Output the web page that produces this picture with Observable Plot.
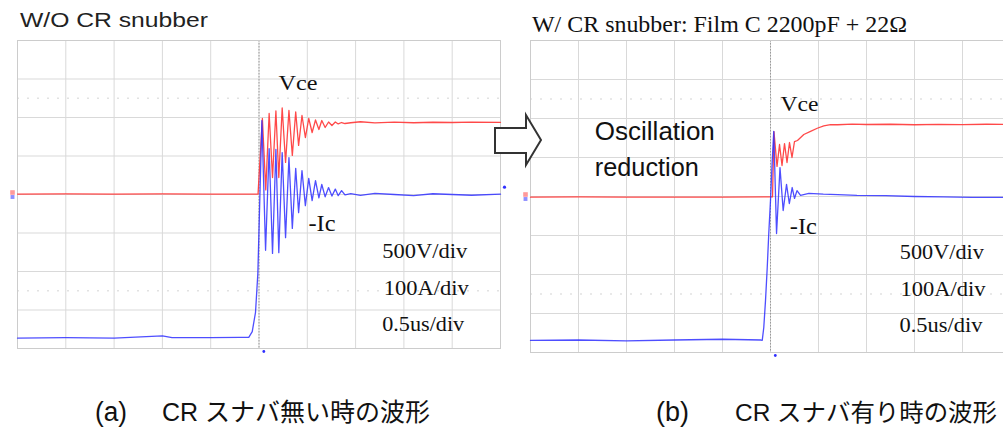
<!DOCTYPE html>
<html>
<head>
<meta charset="utf-8">
<script src="https://cdn.jsdelivr.net/npm/d3@7"></script>
<script src="https://cdn.jsdelivr.net/npm/@observablehq/plot@0.6"></script>
<style>
  html, body { margin: 0; padding: 0; background: #fff; }
  body { width: 1003px; height: 432px; overflow: hidden; position: relative; }
  .panel { position: absolute; top: 0; width: 520px; height: 360px; }
  #overlay { position: absolute; left: 0; top: 0; pointer-events: none; }
</style>
</head>
<body>
<div id="pa" class="panel" style="left:0px"></div>
<div id="pb" class="panel" style="left:500px"></div>
<svg id="overlay" width="1003" height="432"></svg>
<script>
// ---- scope settings ----
const voltsPerDiv = 500;   // Vce: 500 V/div
const ampsPerDiv = 100;    // -Ic: 100 A/div
const nsPerDiv = 500;      // 0.5 us/div
const xTicks = [-2500, -2000, -1500, -1000, -500, 0, 500, 1000, 1500, 2000, 2500]; // ns
const yTicks = [-4, -3, -2, -1, 0, 1, 2, 3, 4];  // divisions
const dottedDivs = [-2.5, 2.5];
const trigTime = [50];      // ns
const trigLevel = [0.19];   // div
const chLevel = [0];        // div

// ---- (a) W/O CR snubber ----
const aVceT = [-2500, -2000, -1500, -1000, -500, -10,
  35, 70, 105, 140, 175, 205, 240, 275, 310, 345, 380, 410, 445, 480, 515, 550,
  585, 620, 650, 685, 720, 755, 790, 820, 855, 890,
  950, 1050, 1200, 1400, 1600, 1800, 2000, 2200, 2500];
const aVce = [5, 8, 4, 7, 6, 5,
  987, 60, 1052, 221, 1085, 221, 1124, 416, 1091, 507, 1072, 637, 1026, 740, 987, 805,
  968, 844, 961, 870, 942, 896, 942, 916, 935, 922,
  932, 945, 930, 940, 932, 938, 935, 940, 937];

const aIcT = [-2500, -2000, -1500, -1000, -900, -500, -200,
  -106, -70, -36, -12, 8, 30,
  68, 105, 140, 175, 205, 240, 275, 310, 345, 380, 410, 445, 480, 515, 550,
  585, 620, 650, 685, 720, 755, 790, 820, 855, 890,
  950, 1050, 1200, 1400, 1600, 1800, 2000, 2200, 2500];
const aIc = [-373, -372, -373, -367, -372, -372, -371,
  -371, -356, -306, -205, -16, 192,
  -145, 119, -153, 117, -151, 109, -112, 96, -88, 68, -47, 62, -29, 42, -16,
  36, -9, 26, -6, 18, -4, 14, -3, 10, -1,
  2, -2, 3, 0, -3, 2, 0, -2, 1];

// ---- (b) W/ CR snubber: Film C 2200pF + 22 ohm ----
const bVceT = [-2500, -2000, -1500, -1000, -500, 21,
  36, 68, 94, 120, 146, 172, 198, 224, 250,
  281, 347, 417, 487, 555, 625, 700, 850, 1000, 1250, 1500, 1750, 2000, 2250, 2500];
const bVce = [-8, -6, -9, -7, -8, -5,
  833, 385, 667, 397, 679, 436, 692, 500, 705,
  718, 795, 835, 875, 905, 922, 920, 928, 923, 926, 920, 925, 922, 926, 923];

const bIcT = [-2500, -2000, -1500, -1000, -500, -100,
  -86, -70, -52, -34, -18, 0, 18, 34,
  63, 99, 132, 167, 196, 226, 250, 276, 313,
  400, 550, 700, 900, 1200, 1500, 1800, 2100, 2500];
const bIc = [-369, -368, -370, -368, -366, -368,
  -369, -336, -267, -182, -95, -10, 92, 167,
  -95, 74, -36, 31, -18, 23, -5, 15, 3,
  8, 6, 5, 3, 2, 0, -1, -2, -2];

const RED = "#ff3535";
const BLUE = "#2f2fff";

function rows(T, V) { return T.map((t, i) => ({t, v: V[i]})); }

function panel(opts) {
  const vce = rows(opts.vT, opts.v);
  const ic = rows(opts.iT, opts.i);
  const serif = "'Liberation Serif', 'DejaVu Serif', serif";
  const sans = "'Liberation Sans', Arial, sans-serif";
  const lbl = (text, x, y, size, family) =>
    Plot.text([text], {x, y, text: d => d, textAnchor: "start", lineAnchor: "bottom",
      fontSize: size, fontFamily: family, fill: "#111"});
  const svg = Plot.plot({
    width: 520, height: 360,
    marginLeft: opts.ml, marginRight: opts.mr, marginTop: 40, marginBottom: opts.mb,
    x: {domain: [xTicks[0], xTicks[xTicks.length - 1]], axis: null},
    y: {domain: [yTicks[0], yTicks[yTicks.length - 1]], axis: null},
    style: {background: "transparent", maxWidth: "none", overflow: "visible"},
    marks: [
      Plot.ruleX(xTicks, {stroke: "#d9d9d9", strokeWidth: 1}),
      Plot.ruleY(yTicks, {stroke: "#d9d9d9", strokeWidth: 1}),
      Plot.ruleY(dottedDivs, {stroke: "#e2e2e2", strokeWidth: 1.5, strokeDasharray: "2,8"}),
      Plot.ruleX([0], {stroke: "#9a9a9a", strokeWidth: 1, strokeDasharray: "1.5,1.5"}),
      Plot.frame({stroke: "#cccccc"}),
      Plot.line(vce, {x: "t", y: d => d.v / voltsPerDiv, stroke: RED, strokeWidth: 1.3, strokeOpacity: 0.9}),
      Plot.line(ic, {x: "t", y: d => d.v / ampsPerDiv, stroke: BLUE, strokeWidth: 1.3, strokeOpacity: 0.85}),
      Plot.dot(chLevel, {y: d => d, frameAnchor: "left", dx: -5, dy: -2, symbol: "square", r: 2.6, fill: "#ff9a9a"}),
      Plot.dot(chLevel, {y: d => d, frameAnchor: "left", dx: -5, dy: 2.5, symbol: "square", r: 2.2, fill: "#8f8fff"}),
      Plot.dot(trigLevel, {y: d => d, frameAnchor: "right", dx: 4, r: 1.6, fill: BLUE}),
      Plot.dot(trigTime, {x: d => d, frameAnchor: "bottom", dy: 3, r: 1.4, fill: BLUE}),
      ...opts.labels.map(l => lbl(l[0], l[1], l[2], l[3], l[4] === "sans" ? sans : serif))
    ]
  });
  const widths = Object.fromEntries(opts.labels.map(l => [l[0], l[5]]));
  d3.select(svg).selectAll("text").each(function () {
    const w = widths[this.textContent];
    if (w) { this.setAttribute("textLength", w); this.setAttribute("lengthAdjust", "spacingAndGlyphs"); }
  });
  return svg;
}

document.getElementById("pa").append(panel({
  vT: aVceT, v: aVce, iT: aIcT, i: aIc, ml: 17, mr: 20, mb: 12,
  labels: [
    ["Vce", 202, 2.727, 22, "serif", 39],
    ["-Ic", 512, -0.953, 23, "serif", 27],
    ["500V/div", 1275, -1.655, 20, "serif", 85],
    ["100A/div", 1292, -2.623, 20, "serif", 85],
    ["0.5us/div", 1275, -3.55, 20, "serif", 82]
  ]
}));

document.getElementById("pb").append(panel({
  vT: bVceT, v: bVce, iT: bIcT, i: bIc, ml: 30, mr: 10, mb: 8,
  labels: [
    ["Vce", 104, 2.205, 22, "serif", 38],
    ["-Ic", 201, -0.956, 23, "serif", 27],
    ["500V/div", 1347, -1.597, 20, "serif", 84],
    ["100A/div", 1354, -2.564, 20, "serif", 85],
    ["0.5us/div", 1344, -3.479, 20, "serif", 83],
    ["Oscillation", -1830, 1.436, 25, "sans", 120],
    ["reduction", -1830, 0.538, 25, "sans", 104]
  ]
}));

// ---- titles, arrow, captions ----
const ov = d3.select("#overlay");
function txt(s, x, y, size, family, len, fill) {
  ov.append("text").attr("x", x).attr("y", y).attr("font-size", size)
    .attr("font-family", family).attr("fill", fill || "#1a1a1a")
    .attr("textLength", len).attr("lengthAdjust", "spacingAndGlyphs").text(s);
}
const SANS = "'Liberation Sans', Arial, 'Noto Sans CJK JP', sans-serif";
const SERIF = "'Liberation Serif', 'DejaVu Serif', serif";
txt("W/O CR snubber", 20, 27, 20, SANS, 188, "#222");
txt("W/ CR snubber: Film C 2200pF + 22Ω", 532, 31.5, 24, SERIF, 375, "#111");
ov.append("path")
  .attr("d", "M495,128 L526,128 L526,115 L541,140 L526,165 L526,153 L495,153 Z")
  .attr("fill", "#fff").attr("stroke", "#333").attr("stroke-width", 2).attr("stroke-linejoin", "miter");
const CJK = "'Liberation Sans', Arial, 'Noto Sans CJK JP', sans-serif";
txt("(a)", 95, 421, 27, CJK, 32, "#111");
txt("CR スナバ無い時の波形", 162, 421, 25, CJK, 268, "#111");
txt("(b)", 656, 421, 27, CJK, 33, "#111");
txt("CR スナバ有り時の波形", 735, 421, 24, CJK, 262, "#111");
</script>
</body>
</html>
